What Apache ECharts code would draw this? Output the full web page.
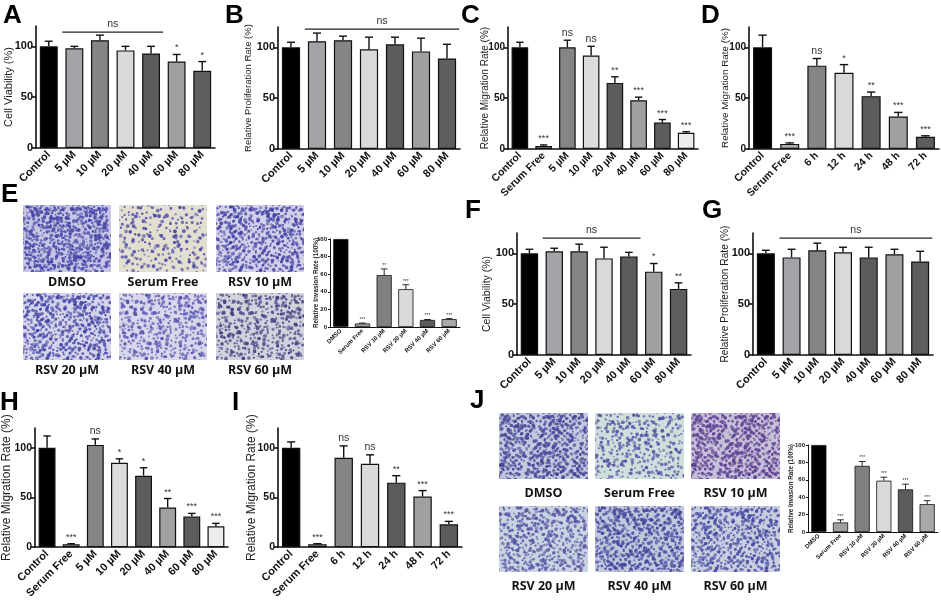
<!DOCTYPE html>
<html>
<head>
<meta charset="utf-8">
<script src="https://cdn.jsdelivr.net/npm/echarts@6/dist/echarts.min.js"></script>
<style>
  html, body { margin: 0; padding: 0; background: #fff; }
  #main { width: 941px; height: 601px; }
</style>
</head>
<body>
<div id="main"></div>
<script>
// categories
var catsDose = ['Control', '5 µM', '10 µM', '20 µM', '40 µM', '60 µM', '80 µM'];
var catsDoseSF = ['Control', 'Serum Free', '5 µM', '10 µM', '20 µM', '40 µM', '60 µM', '80 µM'];
var catsTime = ['Control', 'Serum Free', '6 h', '12 h', '24 h', '48 h', '72 h'];
var catsRSV = ['DMSO', 'Serum Free', 'RSV 10 µM', 'RSV 20 µM', 'RSV 40 µM', 'RSV 60 µM'];

// values (mean, upper SD, significance)
var aVal = [100, 98, 106, 96, 93, 85, 76];
var aErr = [5, 2, 5, 4, 7, 7, 9];
var aSig = ['', '', '', '', '', '*', '*'];

var bVal = [100, 106, 107, 98, 103, 96, 89];
var bErr = [5, 8, 4, 12, 7, 13, 14];
var bSig = ['', '', '', '', '', '', ''];

var cVal = [100, 3, 100, 92, 65, 48, 26, 16];
var cErr = [5, 1, 7, 9, 6, 3, 3, 1];
var cSig = ['', '***', 'ns', 'ns', '**', '***', '***', '***'];

var dVal = [100, 5, 82, 75, 52, 32, 12];
var dErr = [12, 1, 7, 8, 4, 4, 1];
var dSig = ['', '***', 'ns', '*', '**', '***', '***'];

var eVal = [100, 4, 59, 43, 8, 9];
var eErr = [0, 0.5, 7, 5, 0.5, 0.5];
var eSig = ['', '***', '**', '***', '***', '***'];

var fVal = [100, 102, 102, 95, 97, 82, 65];
var fErr = [4, 3, 7, 11, 4, 8, 6];
var fSig = ['', '', '', '', '', '*', '**'];

var gVal = [100, 96, 103, 101, 96, 99, 92];
var gErr = [3, 8, 7, 5, 10, 5, 10];
var gSig = ['', '', '', '', '', '', ''];

var hVal = [100, 3, 103, 85, 72, 40, 31, 21];
var hErr = [12, 0.5, 6, 4, 8, 9, 3, 3];
var hSig = ['', '***', 'ns', '*', '*', '**', '***', '***'];

var iVal = [100, 3, 90, 84, 65, 51, 23];
var iErr = [6, 0.5, 12, 9, 7, 6, 3];
var iSig = ['', '***', 'ns', 'ns', '**', '***', '***'];

var jVal = [100, 11, 76, 59, 49, 32];
var jErr = [0, 3, 5, 4, 6, 4];
var jSig = ['', '***', '***', '***', '***', '***'];

// "ns" brackets: [first category, last category, height]
var aNs = [1, 4, 114];
var bNs = [1, 6, 118];
var fNs = [1, 4, 115];
var gNs = [1, 6, 115];

var colDose = ['#000000', '#a4a4a8', '#858585', '#d9d9d9', '#5c5c5c', '#a0a0a0', '#5e5e5e'];
var colDoseSF = ['#000000', '#b0b0b0', '#858585', '#dcdcdc', '#5c5c5c', '#a0a0a0', '#5c5c5c', '#ececec'];
var colTime = ['#000000', '#aaaaaa', '#858585', '#d9d9d9', '#5c5c5c', '#a0a0a0', '#5c5c5c'];
var colRSV = ['#000000', '#a0a0a0', '#808080', '#d9d9d9', '#5c5c5c', '#a8a8a8'];

var panels = [
  {grid: {left: 36, top: 26, width: 179, height: 122}, cats: catsDose, val: aVal, err: aErr, sig: aSig, col: colDose,
   name: 'Cell Viability (%)', ns: aNs, max: 120, tick: 11, xf: 11, nf: 11, gap: 22},
  {grid: {left: 278, top: 27, width: 182, height: 122}, cats: catsDose, val: bVal, err: bErr, sig: bSig, col: colDose,
   name: 'Relative Proliferation Rate (%)', ns: bNs, max: 120, tick: 11, xf: 11, nf: 9.5, gap: 25},
  {grid: {left: 508, top: 27, width: 190, height: 122}, cats: catsDoseSF, val: cVal, err: cErr, sig: cSig, col: colDoseSF,
   name: 'Relative Migration Rate (%)', max: 120, tick: 10, xf: 10.5, nf: 10, gap: 18},
  {grid: {left: 749, top: 27, width: 190, height: 122}, cats: catsTime, val: dVal, err: dErr, sig: dSig, col: colTime,
   name: 'Relative Migration Rate (%)', max: 120, tick: 10, xf: 10.5, nf: 9.8, gap: 19},
  {grid: {left: 330, top: 239, width: 130, height: 88}, cats: catsRSV, val: eVal, err: eErr, sig: eSig, col: colRSV,
   name: 'Relative Invasion Rate (100%)', max: 100, small: true, tick: 6, xf: 6, nf: 6.4, gap: 11},
  {grid: {left: 517, top: 233, width: 174, height: 122}, cats: catsDose, val: fVal, err: fErr, sig: fSig, col: colDose,
   name: 'Cell Viability (%)', ns: fNs, max: 120, tick: 11, xf: 11, nf: 10.5, gap: 24},
  {grid: {left: 753, top: 233, width: 180, height: 122}, cats: catsDose, val: gVal, err: gErr, sig: gSig, col: colDose,
   name: 'Relative Proliferation Rate (%)', ns: gNs, max: 120, tick: 11, xf: 11, nf: 10.2, gap: 23},
  {grid: {left: 32, top: 428, width: 196, height: 124}, cats: catsDoseSF, val: hVal, err: hErr, sig: hSig, col: colDoseSF,
   name: 'Relative Migration Rate (%)', max: 120, tick: 10.5, xf: 11, nf: 12, gap: 22},
  {grid: {left: 278, top: 428, width: 184, height: 124}, cats: catsTime, val: iVal, err: iErr, sig: iSig, col: colTime,
   name: 'Relative Migration Rate (%)', max: 120, tick: 10.5, xf: 11, nf: 12, gap: 20},
  {grid: {left: 808, top: 445, width: 130, height: 87}, cats: catsRSV, val: jVal, err: jErr, sig: jSig, col: colRSV,
   name: 'Relative Invasion Rate (100%)', max: 100, small: true, tick: 6, xf: 6, nf: 6.3, gap: 14}
];

var FONT = '"Liberation Sans", Arial, sans-serif';
var BARW = 0.7;

var grids = [], xAxes = [], yAxes = [], series = [];

panels.forEach(function (p, k) {
  grids.push(Object.assign({containLabel: false}, p.grid));
  var lw = p.small ? 1 : 1.6;
  xAxes.push({
    type: 'category', gridIndex: k, data: p.cats,
    axisLine: {lineStyle: {color: '#111', width: lw}},
    axisTick: {alignWithLabel: true, length: p.small ? 2 : 3, lineStyle: {color: '#111', width: lw}},
    axisLabel: {interval: 0, rotate: 45, fontSize: p.xf, fontWeight: 'bold', color: '#111',
      fontFamily: FONT, margin: p.small ? 3 : 5}
  });
  var ticks = p.max === 120 ? [0, 50, 100] : [0, 20, 40, 60, 80, 100];
  yAxes.push({
    type: 'value', gridIndex: k, min: 0, max: p.max,
    splitLine: {show: false},
    axisLine: {show: true, lineStyle: {color: '#111', width: lw}},
    axisTick: {show: true, customValues: ticks, length: p.small ? 2 : 4, lineStyle: {color: '#111', width: lw}},
    axisLabel: {customValues: ticks, fontSize: p.tick, fontWeight: 'bold', color: '#111',
      fontFamily: FONT, margin: 3},
    name: p.name, nameLocation: 'middle', nameGap: p.gap, nameMoveOverlap: false,
    nameTextStyle: {fontSize: p.nf, color: '#222', fontFamily: FONT, fontWeight: p.small ? 'bold' : 'normal'}
  });

  series.push({
    type: 'bar', xAxisIndex: k, yAxisIndex: k, barWidth: (BARW * 100) + '%',
    data: p.val.map(function (v, i) {
      return {value: v, itemStyle: {color: p.col[i], borderColor: '#111', borderWidth: p.small ? 0.8 : 1.2}};
    })
  });

  var sig = p.sig;
  series.push({
    type: 'custom', xAxisIndex: k, yAxisIndex: k, z: 5,
    data: p.val.map(function (v, i) { return [i, v, p.err[i]]; }),
    encode: {x: 0, y: 1},
    renderItem: function (params, api) {
      var i = api.value(0), v = api.value(1), e = api.value(2);
      var base = api.coord([i, v]);
      var top = api.coord([i, v + e]);
      var half = api.size([1, 0])[0] * BARW * 0.22;
      var w = p.small ? 0.9 : 1.4;
      var kids = [];
      if (e > 0) {
        kids.push({type: 'line', shape: {x1: base[0], y1: base[1], x2: top[0], y2: top[1]},
          style: {stroke: '#111', lineWidth: w}});
        kids.push({type: 'line', shape: {x1: top[0] - half, y1: top[1], x2: top[0] + half, y2: top[1]},
          style: {stroke: '#111', lineWidth: w}});
      }
      var s = sig[params.dataIndex];
      if (s) {
        var isNs = s === 'ns';
        kids.push({type: 'text', x: top[0], y: top[1] - (p.small ? 1 : 2),
          style: {text: s, align: 'center', verticalAlign: 'bottom', fill: '#333',
            font: (p.small ? 5 : (isNs ? 10.5 : 9)) + 'px ' + FONT}});
      }
      return {type: 'group', children: kids};
    }
  });

  if (p.ns) {
    series.push({
      type: 'custom', xAxisIndex: k, yAxisIndex: k, z: 5,
      data: [p.ns], encode: {x: 0, y: 2},
      renderItem: function (params, api) {
        var a = api.coord([api.value(0), api.value(2)]);
        var b = api.coord([api.value(1), api.value(2)]);
        var band = api.size([1, 0])[0];
        return {type: 'group', children: [
          {type: 'line', shape: {x1: a[0] - band * 0.47, y1: a[1], x2: b[0] + band * 0.47, y2: a[1]},
            style: {stroke: '#222', lineWidth: 1.2}},
          {type: 'text', x: (a[0] + b[0]) / 2, y: a[1] - 2,
            style: {text: 'ns', align: 'center', verticalAlign: 'bottom', fill: '#333', font: '10.5px ' + FONT}}
        ]};
      }
    });
  }
});

// micrograph placeholders: stained-cell texture on a pale field
function micro(w, h, bg, dot, step) {
  var c = document.createElement('canvas');
  c.width = w * 2; c.height = h * 2;
  var g = c.getContext('2d');
  g.scale(2, 2);
  g.fillStyle = bg; g.fillRect(0, 0, w, h);
  g.fillStyle = dot;
  var n = 0;
  for (var y = 1; y < h; y += step) {
    for (var x = 1; x < w; x += step) {
      n++;
      var ox = (Math.sin(n * 12.9898) * 43758.5453) % 1;
      var oy = (Math.sin(n * 78.233) * 43758.5453) % 1;
      g.globalAlpha = 0.5 + Math.abs(ox) * 0.5;
      g.beginPath();
      g.arc(x + ox * step, y + oy * step, 0.8 + Math.abs(oy) * 1.1, 0, Math.PI * 2);
      g.fill();
    }
  }
  return c;
}

var graphics = [];
function letter(t, x, y) {
  graphics.push({type: 'text', x: x, y: y,
    style: {text: t, fill: '#000', font: 'bold 26px ' + FONT}});
}
letter('A', 3, 3); letter('B', 225, 3); letter('C', 461, 3); letter('D', 701, 3);
letter('E', 1, 182); letter('F', 465, 198); letter('G', 702, 198);
letter('H', 0, 390); letter('I', 232, 390); letter('J', 470, 388);

function microBlock(xs, ys, w, h, labels, looks, labelDy) {
  var k = 0;
  ys.forEach(function (y) {
    xs.forEach(function (x) {
      var l = looks[k];
      graphics.push({type: 'image', x: x, y: y,
        style: {image: micro(w, h, l[0], l[1], l[2]), width: w, height: h}});
      graphics.push({type: 'text', x: x + w / 2, y: y + h + labelDy,
        style: {text: labels[k], align: 'center', verticalAlign: 'middle', fill: '#111',
          font: 'bold 12.5px "Open Sans", ' + FONT}});
      k++;
    });
  });
}

var imgLabels = ['DMSO', 'Serum Free', 'RSV 10 µM', 'RSV 20 µM', 'RSV 40 µM', 'RSV 60 µM'];
microBlock([23, 119, 216], [205, 293], 88, 67, imgLabels, [
  ['#c6c6e4', '#4a46a8', 3], ['#e2ded0', '#4e4aa6', 5], ['#d0d0e8', '#4642a4', 3.4],
  ['#d4d4ea', '#4644a6', 3.4], ['#d8d8ea', '#5a58b4', 3.8], ['#d2d2dc', '#444486', 3.8]
], 10);
microBlock([499, 595, 691], [413, 506], 89, 66, imgLabels, [
  ['#c2cade', '#4a489a', 3], ['#cfe0dc', '#5654a6', 4.2], ['#c8c0d8', '#5e4494', 3],
  ['#cad4e0', '#5654a6', 3.6], ['#c0c8dc', '#46469e', 3.2], ['#c8d0e0', '#4a4aa2', 3.4]
], 14);

var chart = echarts.init(document.getElementById('main'), null, {renderer: 'canvas'});
chart.setOption({
  backgroundColor: '#fff',
  animation: false,
  textStyle: {fontFamily: FONT},
  grid: grids,
  xAxis: xAxes,
  yAxis: yAxes,
  series: series,
  graphic: graphics
});
</script>
</body>
</html>
